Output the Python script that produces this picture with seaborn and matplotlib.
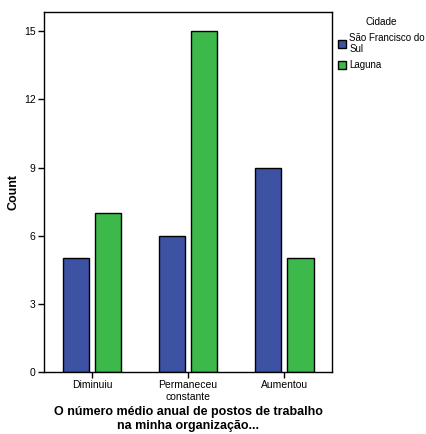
import pandas as pd
import seaborn as sns
import matplotlib.pyplot as plt

categorias = ['Diminuiu', 'Permaneceu\nconstante', 'Aumentou']
cidades = ['São Francisco do\nSul', 'Laguna']
sao_francisco = [5, 6, 9]
laguna = [7, 15, 5]

df = pd.DataFrame({
    'categoria': categorias * 2,
    'Cidade': [cidades[0]] * 3 + [cidades[1]] * 3,
    'Count': sao_francisco + laguna,
})

sns.set_style('white')
plt.rcParams['font.family'] = ['Liberation Sans', 'DejaVu Sans']
plt.rcParams['text.color'] = 'black'
plt.rcParams['axes.labelcolor'] = 'black'

fig = plt.figure(figsize=(4.27, 4.34), dpi=100)
ax = fig.add_axes([0.103, 0.143, 0.675, 0.829])

sns.barplot(data=df, x='categoria', y='Count', hue='Cidade', order=categorias,
            hue_order=cidades, palette=['#3E52A4', '#3CB94A'], saturation=1,
            width=0.68, gap=0.2, edgecolor='black', linewidth=1, ax=ax)

ax.set_xlim(-0.5, 2.5)
ax.set_ylim(0, 15.84)
ax.set_yticks([0, 3, 6, 9, 12, 15])
ax.tick_params(axis='both', labelsize=7.5, length=4, width=1, color='black',
               labelcolor='black', direction='out', bottom=True, left=True,
               pad=2)
for s in ax.spines.values():
    s.set_color('black')
    s.set_linewidth(1)
ax.set_xlabel('O número médio anual de postos de trabalho\nna minha organização...',
              fontsize=9, fontweight='bold', labelpad=3, linespacing=1.2)
ax.set_ylabel('Count', fontsize=9, fontweight='bold', labelpad=3)

leg = ax.legend(title='Cidade', loc='upper left', bbox_to_anchor=(1.0, 1.002),
                frameon=False, fontsize=7, title_fontsize=7.2,
                handlelength=0.9, handleheight=0.9, handletextpad=0.3,
                borderaxespad=0.15, labelspacing=0.6)
for h in leg.legend_handles:
    h.set_edgecolor('black')
    h.set_linewidth(1)

fig.savefig('out.png', dpi=100)
